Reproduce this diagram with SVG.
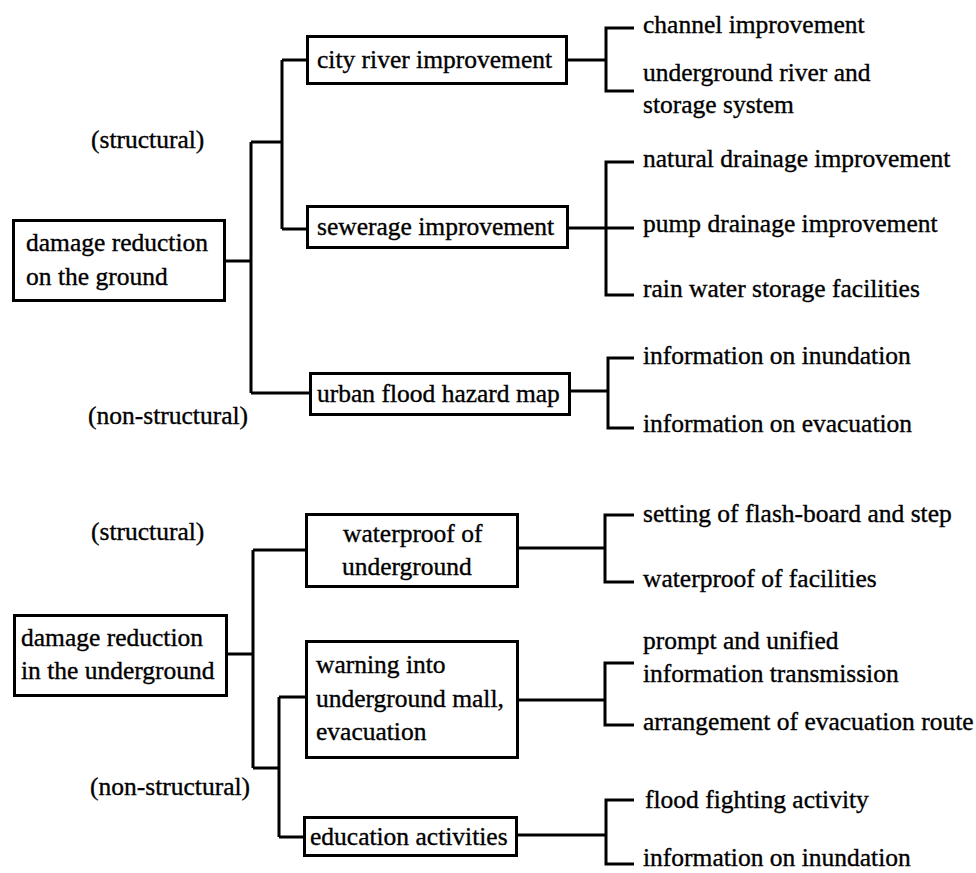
<svg xmlns="http://www.w3.org/2000/svg" width="976" height="873" viewBox="0 0 976 873">
<style>
  .box { fill: #fff; stroke: #000; stroke-width: 3; }
  .t { font-family: "Liberation Serif", "Times New Roman", serif; font-size: 25.5px; fill: #000; stroke: #000; stroke-width: 0.35; }
  .c { fill: none; stroke: #000; stroke-width: 3; stroke-linejoin: miter; }
</style>
<rect width="976" height="873" fill="#fff"/>

<g id="connectors">
  <path class="c" d="M226 261 H251 M251 142 V393 M251 142 H282 M282 60 V229 M282 60 H306 M282 229 H306 M251 393 H309"/>
  <path class="c" d="M568 60 H606 M634 28 H606 V91 H634"/>
  <path class="c" d="M569 228 H634 M634 162 H606 V295 H634"/>
  <path class="c" d="M571 391 H608 M634 358 H608 V428 H634"/>
  <path class="c" d="M228 654 H253 M253 550 V768 M253 550 H305 M253 768 H279 M279 697 V837 M279 697 H305 M279 837 H303"/>
  <path class="c" d="M519 548 H605 M634 515 H605 V582 H634"/>
  <path class="c" d="M519 700 H605 M634 663 H605 V725 H634"/>
  <path class="c" d="M518 835 H606 M634 800 H606 V864 H634"/>
</g>

<g id="lbl-structural-1"><text class="t" x="91" y="148">(structural)</text></g>
<g id="lbl-nonstructural-1"><text class="t" x="88" y="424">(non-structural)</text></g>
<g id="lbl-structural-2"><text class="t" x="91" y="540">(structural)</text></g>
<g id="lbl-nonstructural-2"><text class="t" x="90" y="795">(non-structural)</text></g>

<g id="ground">
  <rect class="box" x="13.5" y="220.5" width="211" height="80"/>
  <text class="t" x="26" y="251">damage reduction</text>
  <text class="t" x="26" y="285">on the ground</text>
</g>
<g id="city-river">
  <rect class="box" x="307.5" y="36.5" width="259" height="47"/>
  <text class="t" x="317" y="68">city river improvement</text>
</g>
<g id="sewerage">
  <rect class="box" x="307.5" y="206.5" width="260" height="41"/>
  <text class="t" x="317" y="235">sewerage improvement</text>
</g>
<g id="hazard-map">
  <rect class="box" x="310.5" y="373.5" width="259" height="41"/>
  <text class="t" x="317" y="402">urban flood hazard map</text>
</g>

<g id="leaf-channel"><text class="t" x="643" y="33">channel improvement</text></g>
<g id="leaf-underground-river">
  <text class="t" x="643" y="81">underground river and</text>
  <text class="t" x="643" y="113">storage system</text>
</g>
<g id="leaf-natural"><text class="t" x="643" y="167">natural drainage improvement</text></g>
<g id="leaf-pump"><text class="t" x="643" y="232">pump drainage improvement</text></g>
<g id="leaf-rain"><text class="t" x="643" y="297">rain water storage facilities</text></g>
<g id="leaf-inundation-1"><text class="t" x="643" y="364">information on inundation</text></g>
<g id="leaf-evacuation"><text class="t" x="643" y="432">information on evacuation</text></g>

<g id="underground">
  <rect class="box" x="14.5" y="615.5" width="212" height="80"/>
  <text class="t" x="21" y="646">damage reduction</text>
  <text class="t" x="21" y="679">in the underground</text>
</g>
<g id="waterproof">
  <rect class="box" x="306.5" y="514.5" width="211" height="72"/>
  <text class="t" x="343" y="542">waterproof of</text>
  <text class="t" x="342" y="575">underground</text>
</g>
<g id="warning">
  <rect class="box" x="306.5" y="641.5" width="211" height="116"/>
  <text class="t" x="316" y="673">warning into</text>
  <text class="t" x="316" y="707">underground mall,</text>
  <text class="t" x="316" y="740">evacuation</text>
</g>
<g id="education">
  <rect class="box" x="304.5" y="817.5" width="212" height="38"/>
  <text class="t" x="310" y="845">education activities</text>
</g>

<g id="leaf-flash-board"><text class="t" x="643" y="522">setting of flash-board and step</text></g>
<g id="leaf-waterproof-facilities"><text class="t" x="643" y="587">waterproof of facilities</text></g>
<g id="leaf-prompt">
  <text class="t" x="643" y="649">prompt and unified</text>
  <text class="t" x="643" y="682">information transmission</text>
</g>
<g id="leaf-route"><text class="t" x="643" y="730">arrangement of evacuation route</text></g>
<g id="leaf-flood-fighting"><text class="t" x="645" y="808">flood fighting activity</text></g>
<g id="leaf-inundation-2"><text class="t" x="643" y="866">information on inundation</text></g>
</svg>
